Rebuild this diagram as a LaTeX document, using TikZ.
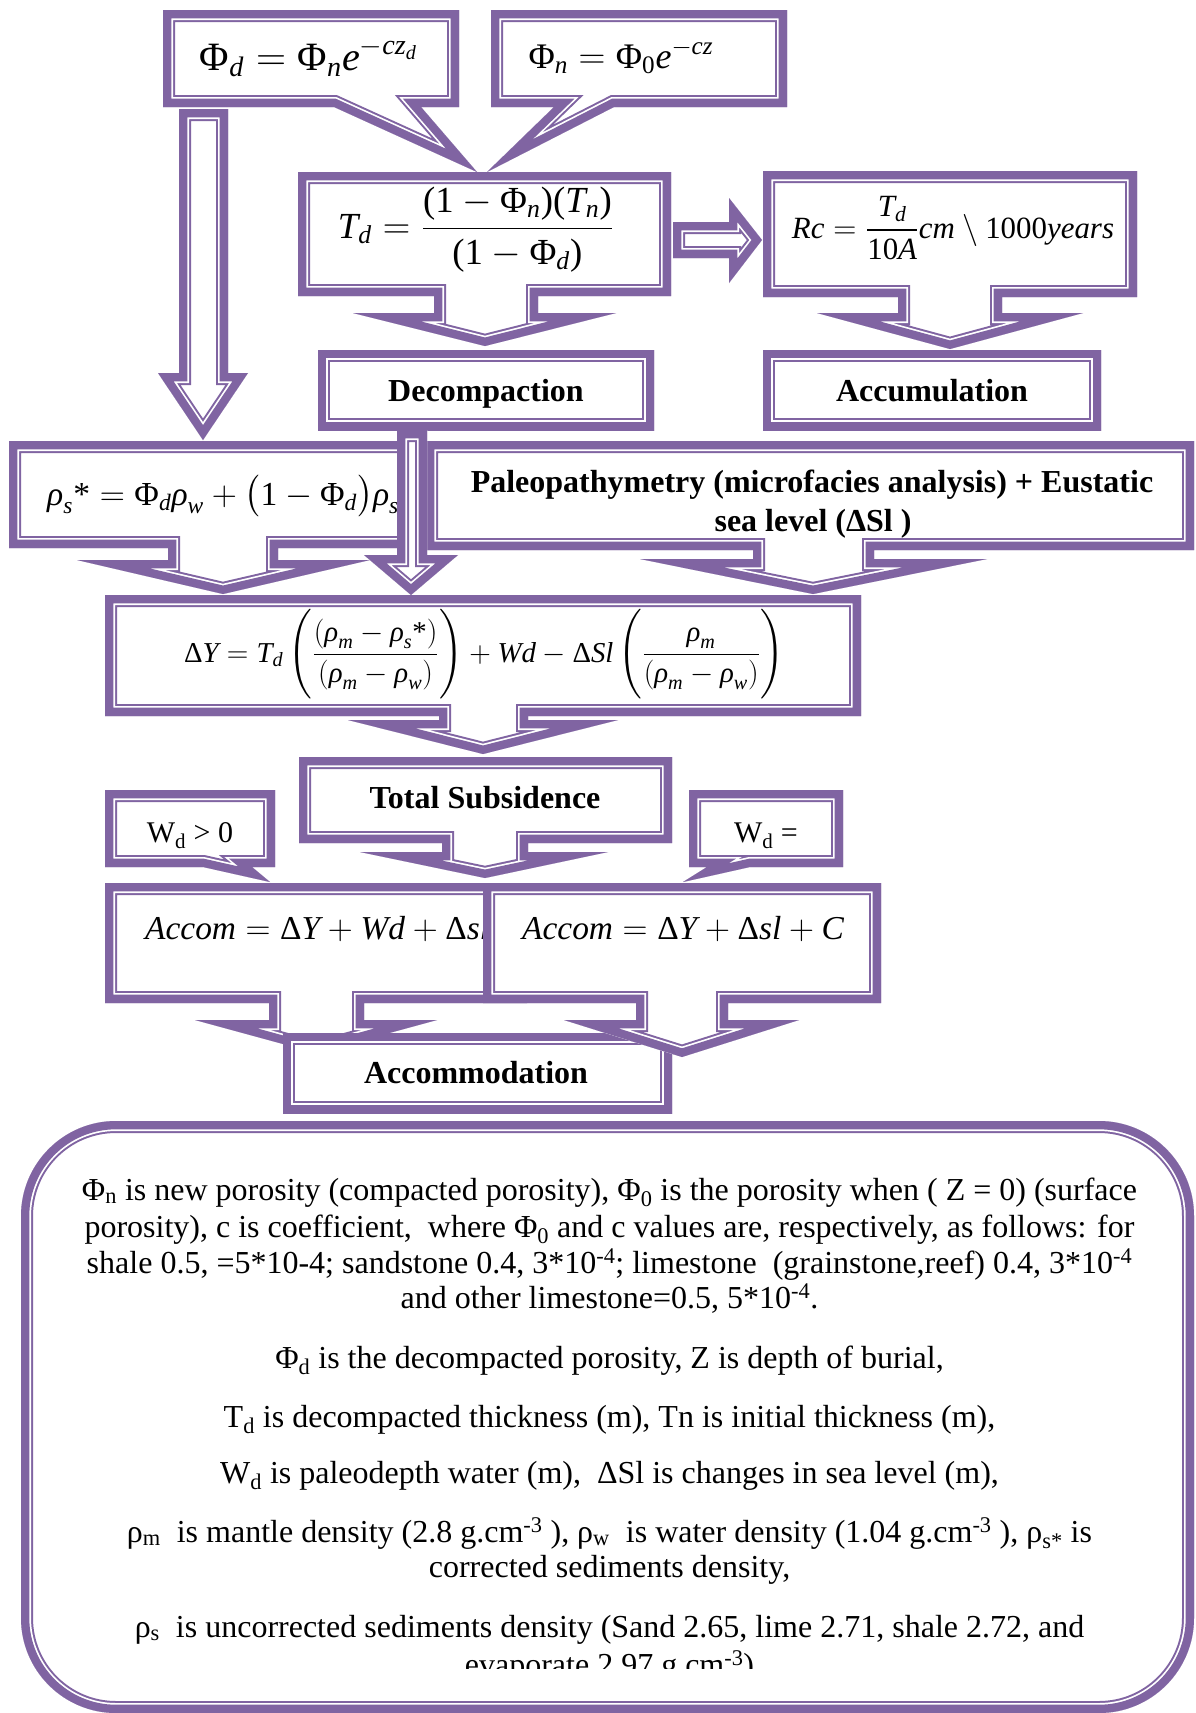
\documentclass[tikz,border=0pt]{standalone}
\usepackage{amsmath}
\usepackage{graphicx}
\usepackage{fontspec}
\setmainfont{Liberation Serif}
\definecolor{pur}{HTML}{8064A2}
\newcommand\mi[1]{\textit{#1}}
\newcommand\mt[1]{\text{#1}}
\newcommand\bigstrut{\rule[-23pt]{0pt}{52pt}}
\newcommand\dshape[1]{%
  \fill[white] #1;
  \begin{scope}
    \clip #1;
    \draw[pur, line width=24pt] #1;
    \draw[white, line width=20pt] #1;
    \draw[pur, line width=16.6pt] #1;
  \end{scope}}
\tikzset{
  lbl/.style={font=\fontsize{32}{38}\selectfont\bfseries, inner sep=0pt, anchor=base},
  eq/.style={inner sep=0pt, anchor=base, font=\fontsize{20}{24}\selectfont},
  body/.style={font=\fontsize{32}{37}\selectfont, inner sep=0pt, anchor=base},
}
\begin{document}
\begin{tikzpicture}[x=1pt,y=-1pt]
\useasboundingbox (0,0) rectangle (1195,1713);
\fill[white] (0,0) rectangle (1195,1713);

% Box A
\dshape{(163,10) -- (459,10) -- (459,107) -- (421,107) -- (477,172) -- (334,107) -- (163,107) -- cycle}
\node[eq] (phid) at (309,70) {\resizebox{218pt}{!}{$\mt{Φ}_{\mi{d}} = \mt{Φ}_{\mi{n}}\mi{e}^{-\mi{cz}_{\mi{d}}}$}};
% Box B
\dshape{(491,10) -- (787,10) -- (787,107) -- (614,107) -- (487,172) -- (554,107) -- (491,107) -- cycle}
\node[eq] (phin) at (621,68) {\resizebox{185pt}{!}{$\mt{Φ}_{\mi{n}} = \mt{Φ}_{\mt{0}}\mi{e}^{-\mi{cz}}$}};
% long arrow from A
\dshape{(179,109) -- (228,109) -- (228,373) -- (248,373) -- (203,440) -- (158,373) -- (179,373) -- cycle}
% Td box
\dshape{(298,172) -- (671,172) -- (671,296) -- (538,296) -- (538,313) -- (616,313) -- (485,346) -- (353,313) -- (434,313) -- (434,296) -- (298,296) -- cycle}
\node[eq] (td) at (476,238) {\resizebox{276pt}{!}{$\mi{T}_{\mi{d}} = \dfrac{\mt{(1}-\mt{Φ}_{\mi{n}}\mt{)(}\mi{T}_{\mi{n}}\mt{)}}{\mt{(1}-\mt{Φ}_{\mi{d}}\mt{)}}$}};
% right arrow
\dshape{(673,222) -- (729,222) -- (729,198) -- (762,240) -- (729,283) -- (729,258) -- (673,258) -- cycle}
% Rc box
\dshape{(763,171) -- (1137,171) -- (1137,297) -- (1002,297) -- (1002,313) -- (1083,313) -- (950,349) -- (817,313) -- (898,313) -- (898,297) -- (763,297) -- cycle}
\node[eq] (rc) at (953,238) {\resizebox{322pt}{!}{$\mi{Rc} = \dfrac{\mi{T}_{\mi{d}}}{\mt{10}\mi{A}}\mi{cm}\setminus\mt{1000}\mi{years}$}};
% Decompaction / Accumulation
\dshape{(318,350) -- (654,350) -- (654,430) -- (318,430) -- cycle}
\node[lbl] (dec) at (486,401) {Decompaction};
\dshape{(763,350) -- (1101,350) -- (1101,430) -- (763,430) -- cycle}
\node[lbl] (acc) at (932,401) {Accumulation};
% rho box
\dshape{(9,441) -- (437,441) -- (437,548) -- (278,548) -- (278,560) -- (370,560) -- (223,594) -- (77,560) -- (168,560) -- (168,548) -- (9,548) -- cycle}
\node[eq, anchor=base west] (rhos) at (47,505) {\resizebox{352pt}{!}{$\mi{ρ}_{\mi{s}}\mt{*} = \mt{Φ}_{\mi{d}}\mi{ρ}_{\mi{w}} + \bigl(\mt{1}-\mt{Φ}_{\mi{d}}\bigr)\mi{ρ}_{\mi{s}}$}};
% Paleo box
\dshape{(426,441) -- (1194,441) -- (1194,550) -- (874,550) -- (874,559) -- (987,559) -- (813,594) -- (640,559) -- (753,559) -- (753,550) -- (426,550) -- cycle}
\node[lbl] (pal1) at (812,492) {Paleopathymetry (microfacies analysis) + Eustatic};
\node[lbl] (pal2) at (813,531) {sea level (ΔSl )};
% Decompaction arrow
\dshape{(397,430) -- (427,430) -- (427,555) -- (458,555) -- (411,595) -- (364,555) -- (397,555) -- cycle}
% Delta Y box
\dshape{(105,595) -- (861,595) -- (861,716) -- (528,716) -- (528,720) -- (618,720) -- (483,754) -- (348,720) -- (439,720) -- (439,716) -- (105,716) -- cycle}
\node[eq] (dy) at (484,662) {\resizebox{600pt}{!}{$\mt{Δ}\mi{Y} = \mi{T}_{\mi{d}}\left(\bigstrut\dfrac{(\mi{ρ}_{\mi{m}}-\mi{ρ}_{\mi{s}}\mt{*})}{(\mi{ρ}_{\mi{m}}-\mi{ρ}_{\mi{w}})}\right)+\mi{Wd}-\mt{Δ}\mi{Sl}\left(\bigstrut\dfrac{\mi{ρ}_{\mi{m}}}{(\mi{ρ}_{\mi{m}}-\mi{ρ}_{\mi{w}})}\right)$}};
% Total subsidence
\dshape{(299,757) -- (672,757) -- (672,843) -- (528,843) -- (528,852) -- (608,852) -- (485,878) -- (360,852) -- (442,852) -- (442,843) -- (299,843) -- cycle}
\node[lbl] (ts) at (485,808) {Total Subsidence};
% Wd callouts
\dshape{(105,790) -- (275,790) -- (275,867) -- (252,867) -- (270,882) -- (203,867) -- (105,867) -- cycle}
\node[body] (w1) at (190,842) {\fontsize{30}{36}\selectfont W\textsubscript{d} > 0};
\dshape{(689,790) -- (843,790) -- (843,867) -- (750,867) -- (683,882) -- (707,867) -- (689,867) -- cycle}
\node[body] (w2) at (766,842) {\fontsize{30}{36}\selectfont W\textsubscript{d} =};
% Accom left
\dshape{(105,883) -- (527,883) -- (527,1003) -- (364,1003) -- (364,1020) -- (437,1020) -- (316,1053) -- (195,1020) -- (269,1020) -- (269,1003) -- (105,1003) -- cycle}
\node[eq, anchor=base west] (accl) at (145,939) {\scalebox{1.67}{$\mi{Accom} = \mt{Δ}\mi{Y} + \mi{Wd} + \mt{Δ}\mi{sl}$}};
% Accommodation
\dshape{(283,1033) -- (672,1033) -- (672,1113) -- (283,1113) -- cycle}
\node[lbl] (accm) at (476,1083) {Accommodation};
% Accom right
\dshape{(483,883) -- (881,883) -- (881,1003) -- (728,1003) -- (728,1020) -- (799,1020) -- (682,1057) -- (564,1020) -- (636,1020) -- (636,1003) -- (483,1003) -- cycle}
\node[eq, anchor=base west] (accr) at (522,939) {\scalebox{1.67}{$\mi{Accom} = \mt{Δ}\mi{Y} + \mt{Δ}\mi{sl} + \mi{C}$}};
% bottom box
\dshape{[rounded corners=95pt] (21,1121) rectangle (1194,1713)}
\begin{scope}
\clip (0,1100) rectangle (1195,1668);
\node[body] (t1) at (609.5,1200) {Φ\textsubscript{n} is new porosity (compacted porosity), Φ\textsubscript{0} is the porosity when ( Z = 0) (surface};
\node[body] (t2) at (609.5,1237) {porosity), c is coefficient,\ \ where Φ\textsubscript{0} and c values are, respectively, as follows: for};
\node[body] (t3) at (609.5,1273) {shale 0.5, =5*10-4; sandstone 0.4, 3*10\textsuperscript{-4}; limestone\ \ (grainstone,reef) 0.4, 3*10\textsuperscript{-4}};
\node[body] (t4) at (609.5,1308) {and other limestone=0.5, 5*10\textsuperscript{-4}.};
\node[body] (t5) at (609.5,1368) {Φ\textsubscript{d} is the decompacted porosity, Z is depth of burial,};
\node[body] (t6) at (609.5,1427) {T\textsubscript{d} is decompacted thickness (m), Tn is initial thickness (m),};
\node[body] (t7) at (609.5,1483) {W\textsubscript{d} is paleodepth water (m),\ \ ΔSl is changes in sea level (m),};
\node[body] (t8) at (609.5,1542) {ρ\textsubscript{m}\ \ is mantle density (2.8 g.cm\textsuperscript{-3} ), ρ\textsubscript{w}\ \ is water density (1.04 g.cm\textsuperscript{-3} ), ρ\textsubscript{s*} is};
\node[body] (t9) at (609.5,1577) {corrected sediments density,};
\node[body] (t10) at (609.5,1637) {ρ\textsubscript{s}\ \ is uncorrected sediments density (Sand 2.65, lime 2.71, shale 2.72, and};
\node[body] (t11) at (609.5,1675) {evaporate 2.97 g.cm\textsuperscript{-3})};
\end{scope}
\end{tikzpicture}
\end{document}
